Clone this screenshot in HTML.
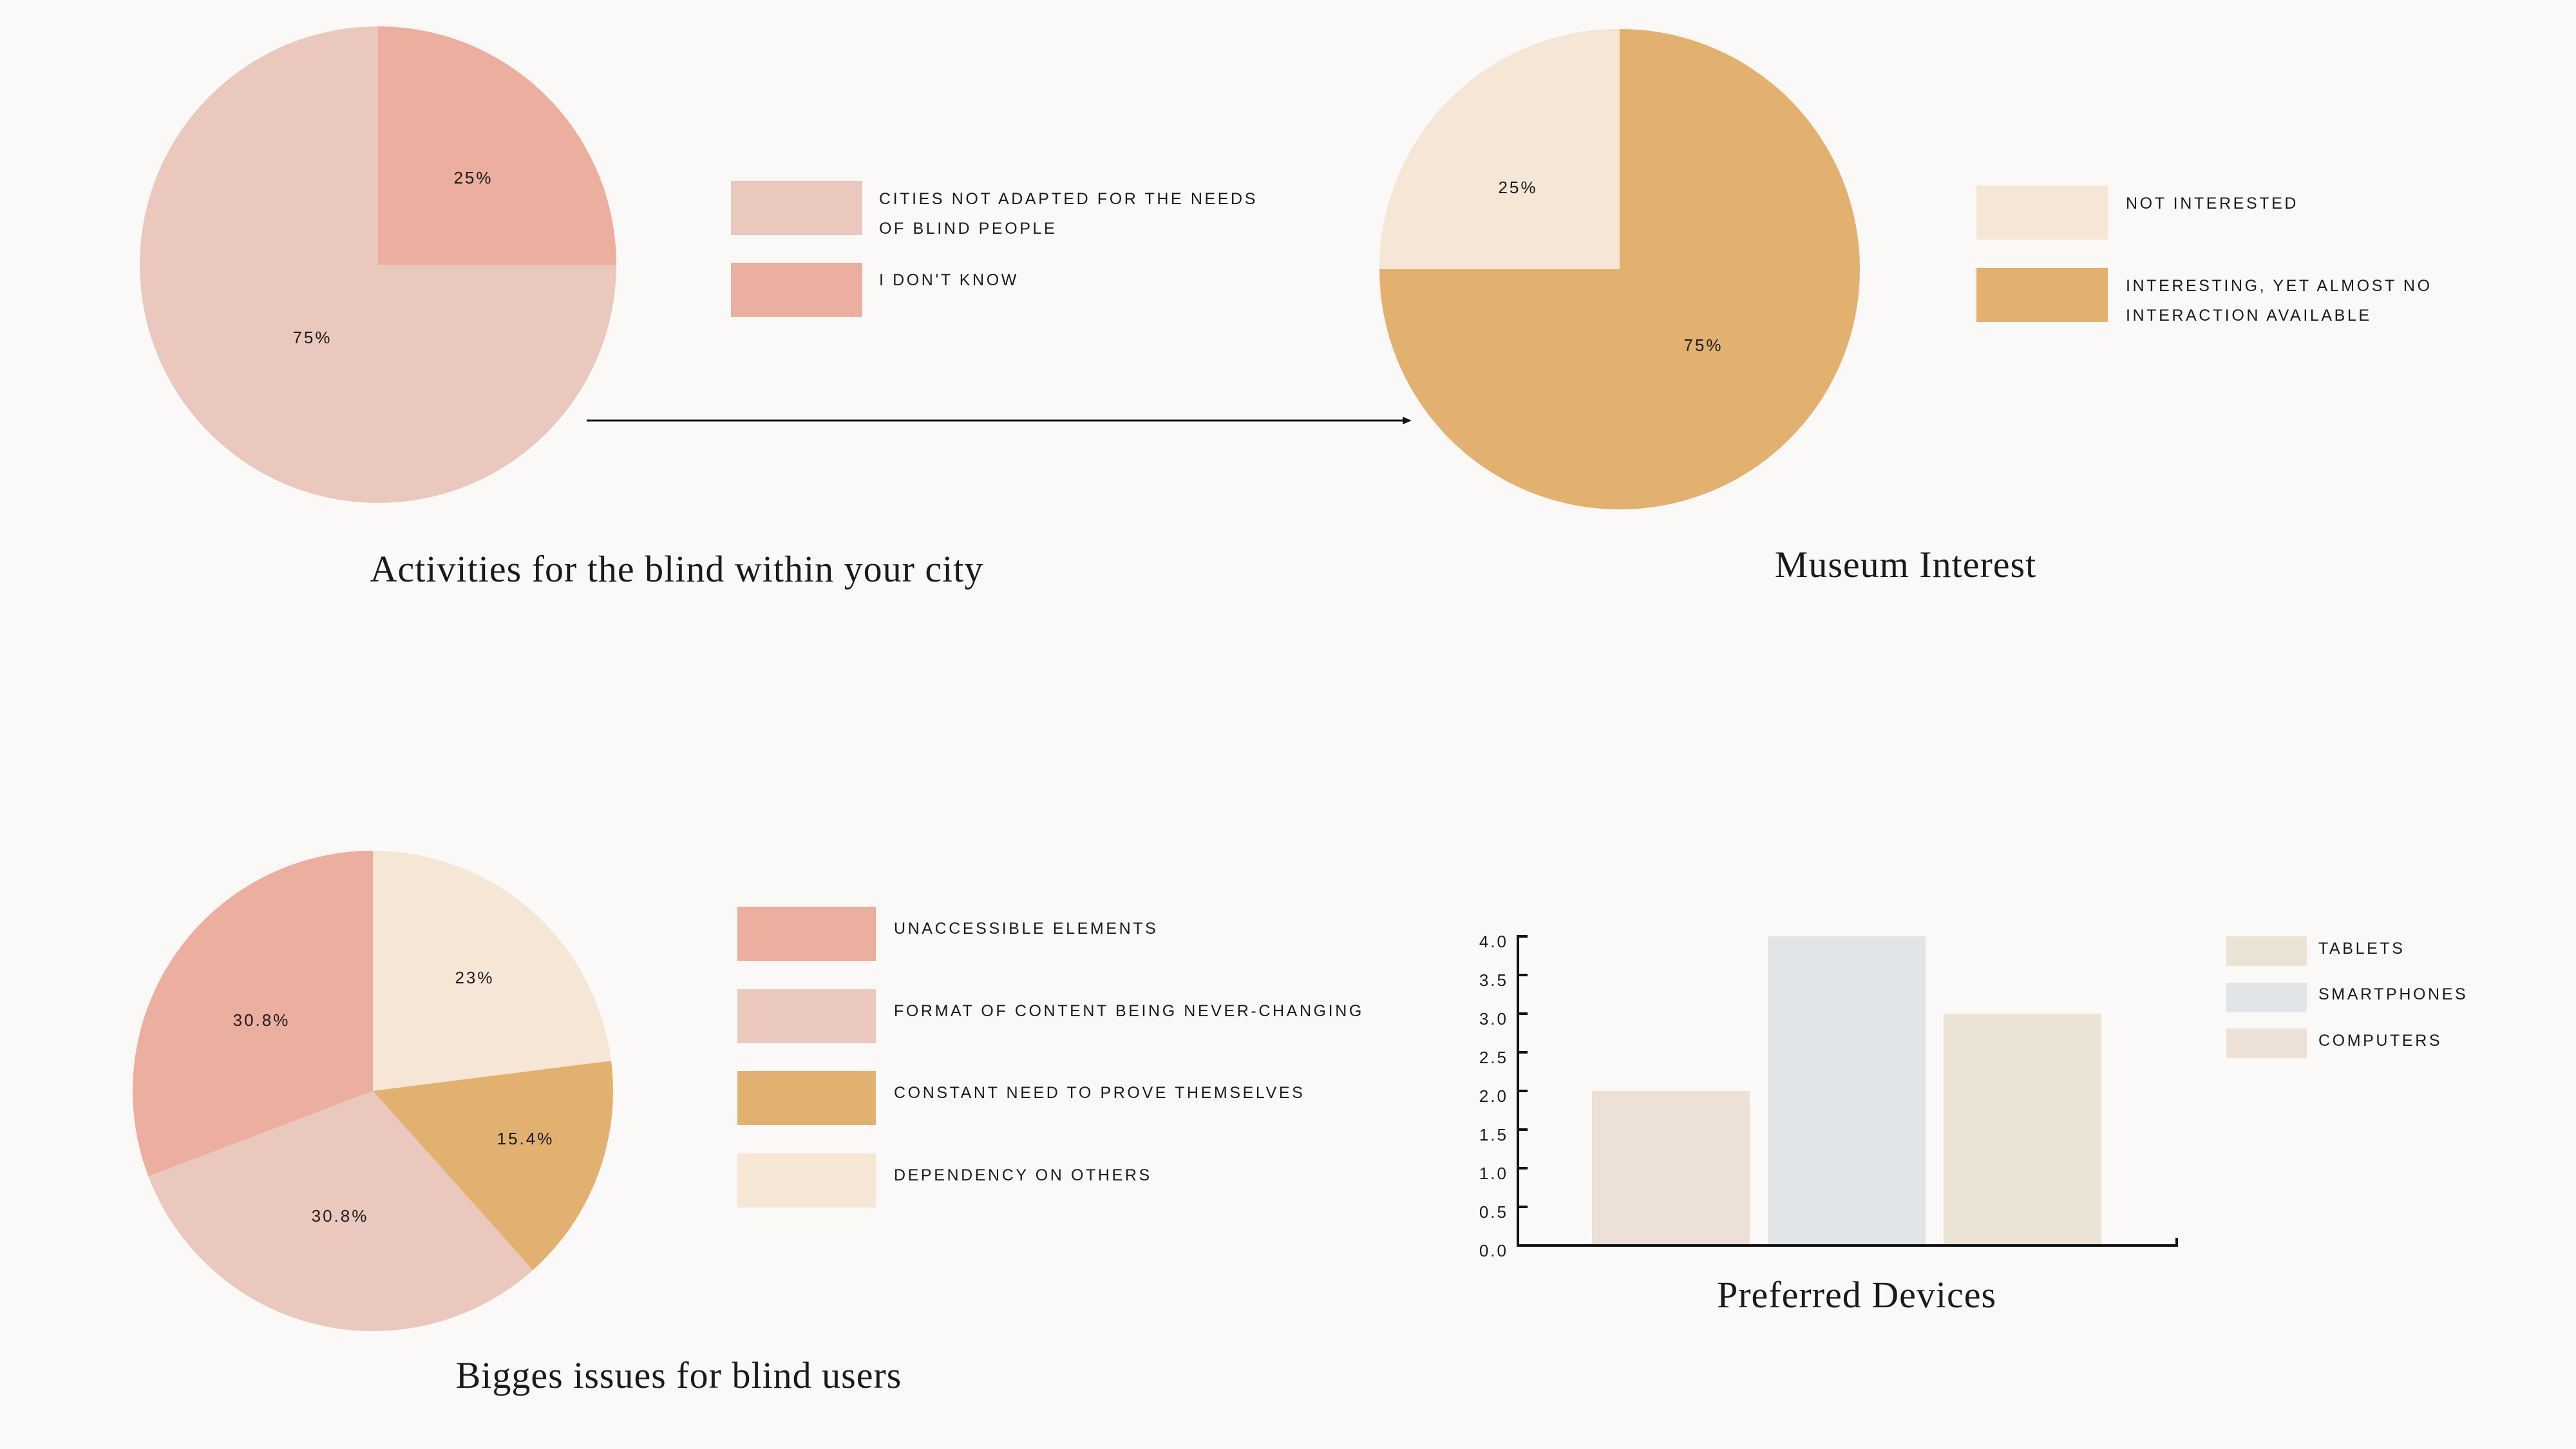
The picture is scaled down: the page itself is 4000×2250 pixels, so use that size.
<!DOCTYPE html>
<html><head><meta charset="utf-8"><style>
html,body{margin:0;padding:0;background:#FAF9F7;}
svg{display:block}
.l{font-family:"Liberation Sans",sans-serif;font-size:25px;letter-spacing:3.6px;fill:#1a1a1a}
.p{font-family:"Liberation Sans",sans-serif;font-size:26px;letter-spacing:3px;fill:#1a1a1a}
.t{font-family:"Liberation Serif",serif;font-size:58px;letter-spacing:1px;fill:#1a1a1a}
</style></head><body>
<svg width="4000" height="2250" viewBox="0 0 4000 2250" xmlns="http://www.w3.org/2000/svg">
<rect width="4000" height="2250" fill="#FAF9F7"/>
<circle cx="587" cy="411" r="370" fill="#EAC8BE"/>
<path d="M587 411 L587 41 A370 370 0 0 1 957 411 Z" fill="#EBAE9F"/>
<text class="p" x="735" y="285" text-anchor="middle">25%</text>
<text class="p" x="485" y="533" text-anchor="middle">75%</text>
<rect x="1135" y="281" width="204" height="84" fill="#EAC8BE"/>
<rect x="1135" y="408" width="204" height="84" fill="#EBAE9F"/>
<text class="l" x="1365" y="317">CITIES NOT ADAPTED FOR THE NEEDS</text>
<text class="l" x="1365" y="363">OF BLIND PEOPLE</text>
<text class="l" x="1365" y="443">I DON'T KNOW</text>
<line x1="911" y1="653" x2="2182" y2="653" stroke="#111" stroke-width="3"/>
<path d="M2192 653 L2178 647 L2178 659 Z" fill="#111"/>
<text class="t" x="1051" y="903" text-anchor="middle">Activities for the blind within your city</text>
<circle cx="2515" cy="418" r="373" fill="#E2B170"/>
<path d="M2515 418 L2142 418 A373 373 0 0 1 2515 45 Z" fill="#F5E6D5"/>
<text class="p" x="2357" y="300" text-anchor="middle">25%</text>
<text class="p" x="2645" y="545" text-anchor="middle">75%</text>
<rect x="3069" y="288" width="204" height="84" fill="#F5E6D5"/>
<rect x="3069" y="416" width="204" height="84" fill="#E2B170"/>
<text class="l" x="3301" y="324">NOT INTERESTED</text>
<text class="l" x="3301" y="452">INTERESTING, YET ALMOST NO</text>
<text class="l" x="3301" y="498">INTERACTION AVAILABLE</text>
<text class="t" x="2959" y="896" text-anchor="middle">Museum Interest</text>
<g transform="translate(579,1694)">
<path d="M0 0 L0 -373 A373 373 0 0 1 370.0 -46.8 Z" fill="#F5E6D5"/>
<path d="M0 0 L370.0 -46.8 A373 373 0 0 1 248.5 278.2 Z" fill="#E2B170"/>
<path d="M0 0 L248.5 278.2 A373 373 0 0 1 -348.6 132.6 Z" fill="#EAC8BE"/>
<path d="M0 0 L-348.6 132.6 A373 373 0 0 1 0 -373 Z" fill="#EBAE9F"/>
</g>
<text class="p" x="737" y="1527" text-anchor="middle">23%</text>
<text class="p" x="816" y="1777" text-anchor="middle">15.4%</text>
<text class="p" x="528" y="1897" text-anchor="middle">30.8%</text>
<text class="p" x="406" y="1593" text-anchor="middle">30.8%</text>
<rect x="1145" y="1408" width="215" height="84" fill="#EBAE9F"/>
<rect x="1145" y="1536" width="215" height="84" fill="#EAC8BE"/>
<rect x="1145" y="1663" width="215" height="84" fill="#E2B170"/>
<rect x="1145" y="1791" width="215" height="84" fill="#F5E6D5"/>
<text class="l" x="1388" y="1450">UNACCESSIBLE ELEMENTS</text>
<text class="l" x="1388" y="1578">FORMAT OF CONTENT BEING NEVER-CHANGING</text>
<text class="l" x="1388" y="1705">CONSTANT NEED TO PROVE THEMSELVES</text>
<text class="l" x="1388" y="1833">DEPENDENCY ON OTHERS</text>
<text class="t" x="1054" y="2155" text-anchor="middle">Bigges issues for blind users</text>
<rect x="2472" y="1694" width="245" height="240" fill="#EDE0D6"/>
<rect x="2745" y="1454" width="245" height="480" fill="#E1E5E8"/>
<rect x="3018" y="1574" width="245" height="360" fill="#EBE4D5"/>
<g stroke="#111" stroke-width="4" fill="none">
<line x1="2357" y1="1452" x2="2357" y2="1936"/>
<line x1="2355" y1="1934" x2="3382" y2="1934"/>
<line x1="3380" y1="1922" x2="3380" y2="1936"/>
<line x1="2357" y1="1874" x2="2372" y2="1874"/>
<line x1="2357" y1="1814" x2="2372" y2="1814"/>
<line x1="2357" y1="1754" x2="2372" y2="1754"/>
<line x1="2357" y1="1694" x2="2372" y2="1694"/>
<line x1="2357" y1="1634" x2="2372" y2="1634"/>
<line x1="2357" y1="1574" x2="2372" y2="1574"/>
<line x1="2357" y1="1514" x2="2372" y2="1514"/>
<line x1="2357" y1="1454" x2="2372" y2="1454"/>
</g>
<text class="p" x="2342" y="1951" text-anchor="end">0.0</text>
<text class="p" x="2342" y="1891" text-anchor="end">0.5</text>
<text class="p" x="2342" y="1831" text-anchor="end">1.0</text>
<text class="p" x="2342" y="1771" text-anchor="end">1.5</text>
<text class="p" x="2342" y="1711" text-anchor="end">2.0</text>
<text class="p" x="2342" y="1651" text-anchor="end">2.5</text>
<text class="p" x="2342" y="1591" text-anchor="end">3.0</text>
<text class="p" x="2342" y="1531" text-anchor="end">3.5</text>
<text class="p" x="2342" y="1471" text-anchor="end">4.0</text>
<rect x="3457" y="1454" width="125" height="46" fill="#EBE4D5"/>
<rect x="3457" y="1526" width="125" height="46" fill="#E1E5E8"/>
<rect x="3457" y="1597" width="125" height="46" fill="#EDE0D6"/>
<text class="l" x="3600" y="1481">TABLETS</text>
<text class="l" x="3600" y="1552">SMARTPHONES</text>
<text class="l" x="3600" y="1624">COMPUTERS</text>
<text class="t" x="2883" y="2030" text-anchor="middle">Preferred Devices</text>
</svg>
</body></html>
